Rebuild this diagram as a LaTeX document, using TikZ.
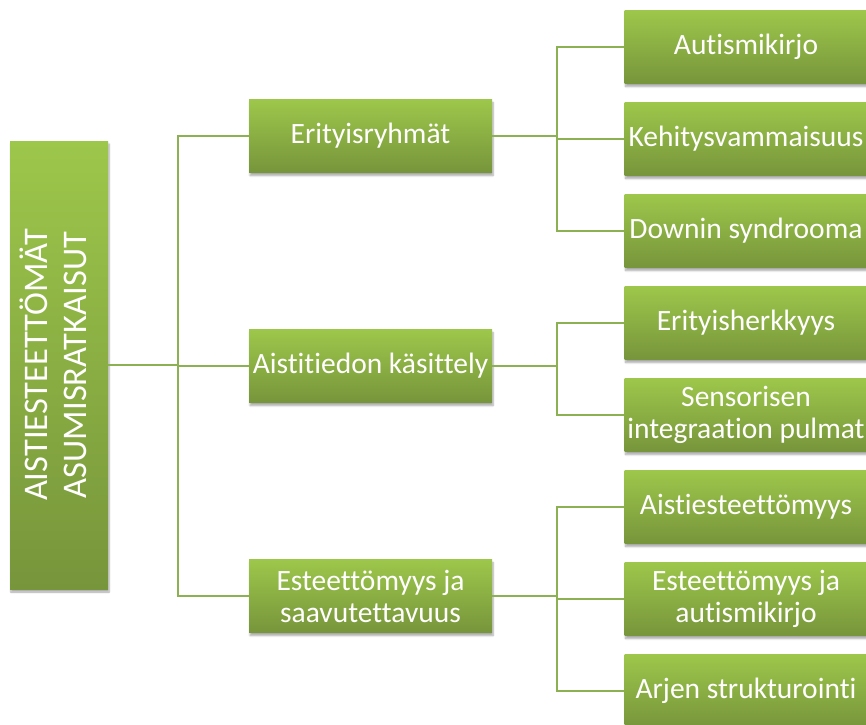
\documentclass[tikz,border=0pt]{standalone}
\usepackage{fontspec}
\setmainfont{Carlito}[RawFeature={-liga;-clig;-calt;-dlig}]
\usetikzlibrary{shadows.blur}
\definecolor{boxtop}{HTML}{9DC74B}
\definecolor{boxbot}{HTML}{77953B}
\definecolor{linkgreen}{HTML}{8CB153}
\tikzset{
  box/.style={top color=boxtop, bottom color=boxbot, text=white,
    minimum width=243pt, minimum height=73pt, inner sep=0pt, align=center,
    font=\fontsize{29.5}{32}\selectfont,
    blur shadow={shadow xshift=1pt, shadow yshift=-3pt, shadow blur steps=6, shadow opacity=35}},
  link/.style={draw=linkgreen, line width=1.6pt}
}
\begin{document}
\begin{tikzpicture}[x=1pt,y=-1pt]
\useasboundingbox (0,0) rectangle (866,724);
% root
\node[box, minimum width=98pt, minimum height=448pt] (root) at (59,365)
  {\rotatebox{90}{\fontsize{34.5}{39}\selectfont\begin{tabular}{@{}c@{}}AISTIESTEETTÖMÄT\\ASUMISRATKAISUT\end{tabular}}};
% middle level
\node[box] (m1) at (370.5,136) {Erityisryhmät};
\node[box] (m2) at (370.5,366) {Aistitiedon käsittely};
\node[box] (m3) at (370.5,596) {Esteettömyys ja\\saavutettavuus};
% right level
\foreach \n/\y/\t in {1/47/Autismikirjo, 2/139/Kehitysvammaisuus, 3/231/Downin syndrooma,
  4/323/Erityisherkkyys, 5/415/{Sensorisen\\integraation pulmat}, 6/507/Aistiesteettömyys,
  7/599/{Esteettömyys ja\\autismikirjo}, 8/691/Arjen strukturointi}
  \node[box] (r\n) at (746,\y) {\t};
% connectors
\draw[link] (root.east) -- ++(70,0) coordinate (j0);
\foreach \m in {m1,m2,m3} \draw[link] (j0) |- (\m.west);
\draw[link] (m1.east) -- ++(65,0) coordinate (j1);
\foreach \r in {r1,r2,r3} \draw[link] (j1) |- (\r.west);
\draw[link] (m2.east) -- ++(65,0) coordinate (j2);
\foreach \r in {r4,r5} \draw[link] (j2) |- (\r.west);
\draw[link] (m3.east) -- ++(65,0) coordinate (j3);
\foreach \r in {r6,r7,r8} \draw[link] (j3) |- (\r.west);
\end{tikzpicture}
\end{document}
